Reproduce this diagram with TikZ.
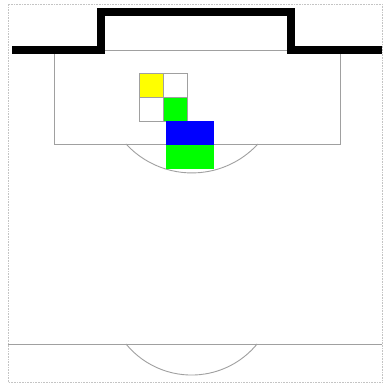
\documentclass[tikz,border=0pt]{standalone}
\usepackage{tikz}
\usetikzlibrary{positioning}
\definecolor{cLine}{HTML}{A0A0A0}
\definecolor{cFrame}{HTML}{C4C4C4}
\definecolor{cYel}{HTML}{FFFF00}
\definecolor{cGrn}{HTML}{00FF00}
\definecolor{cBlu}{HTML}{0000FF}
\tikzset{
  pitch/.style={draw=cLine, line width=0.9pt},
  goalline/.style={draw=black, line width=8pt, line join=miter},
  frame/.style={draw=cFrame, line width=0.6pt, densely dotted},
  cell/.style={draw=cLine, line width=0.9pt, fill=#1, minimum size=24pt,
               inner sep=0pt, outer sep=0pt},
  cell/.default=white,
  zone/.style={draw=none, fill=#1, minimum width=48pt, minimum height=24pt,
               inner sep=0pt, outer sep=0pt},
}

\begin{document}
\begin{tikzpicture}[x=1pt, y=1pt]
  \useasboundingbox (0,0) rectangle (385,385);
  \fill[white] (0,0) rectangle (385,385);
  \draw[frame] (8,3) rectangle (382,381);
  % penalty area and arcs
  \draw[pitch] (54,335) rectangle (340,241);
  \draw[pitch] (126,241) arc[start angle=222.6, end angle=317.4, radius=89.6];
  \draw[pitch] (8,41) -- (382,41);
  \draw[pitch] (126,41) arc[start angle=219.3, end angle=320.7, radius=84.7];
  % goal
  \draw[goalline] (12,335) -- (101,335) -- (101,373) -- (291,373) -- (291,335) -- (382,335);
  % cells
  \node[cell=cYel] (y11) at (151,300) {};
  \node[cell, right=0pt of y11] (w12) {};
  \node[cell, below=0pt of y11] (w21) {};
  \node[cell=cGrn, right=0pt of w21] (g22) {};
  \node[zone=cBlu] (b31) at (190,252) {};
  \node[zone=cGrn, below=0pt of b31] (g41) {};
\end{tikzpicture}
\end{document}
